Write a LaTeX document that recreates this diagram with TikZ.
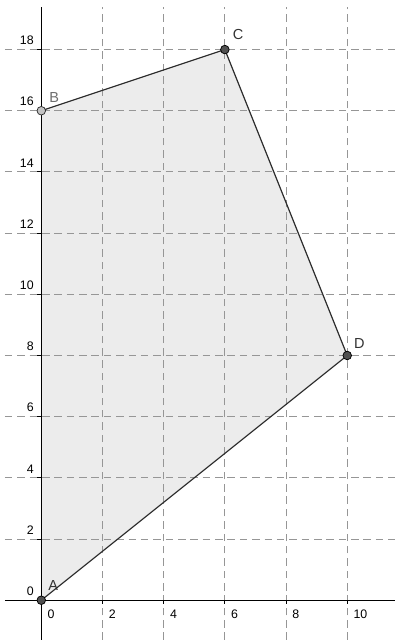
\documentclass[tikz,border=0pt]{standalone}
\usepackage{fontspec}
\setmainfont{Liberation Sans}
\usepackage{xcolor}
\usetikzlibrary{positioning}
\definecolor{gridgray}{RGB}{150,150,150}
\definecolor{polyfill}{RGB}{236,236,236}
\definecolor{edgedark}{RGB}{45,45,45}
\definecolor{pointdark}{RGB}{80,80,80}
\definecolor{pointlight}{RGB}{195,195,195}
\definecolor{labeldark}{RGB}{50,50,50}
\definecolor{labellight}{RGB}{110,110,110}

\tikzset{
  gridline/.style={gridgray, line width=0.8pt, dash pattern=on 7pt off 4.5pt},
  axisline/.style={black, line width=0.9pt},
  edgeline/.style={edgedark, line width=1.1pt},
  fixedpt/.style={circle, draw=black, fill=pointdark, line width=0.7pt, inner sep=0pt, minimum size=0.28cm},
  freept/.style={circle, draw=edgedark, fill=pointlight, line width=0.7pt, inner sep=0pt, minimum size=0.28cm},
  ptlabel/.style={inner sep=0pt, text=labeldark, font=\fontsize{13.5}{15}\selectfont},
  ticklabel/.style={inner sep=0pt, font=\fontsize{11.5}{13}\selectfont}
}

\begin{document}
\begin{tikzpicture}
  \useasboundingbox (-1.35,-1.30) rectangle (11.56,19.62);
  % polygon area
  \coordinate (pA) at (0,0);
  \coordinate (pB) at (0,16);
  \coordinate (pC) at (6,18);
  \coordinate (pD) at (10,8);
  \fill[polyfill] (pA) -- (pB) -- (pC) -- (pD) -- cycle;
  % grid
  \foreach \x in {2,4,...,10} {
    \draw[gridline] (\x,-1.30) -- (\x,19.39);
  }
  \foreach \y in {2,4,...,18} {
    \draw[gridline] (-1.19,\y) -- (11.56,\y);
  }
  % axes
  \draw[axisline] (-1.19,0) -- (11.56,0);
  \draw[axisline] (0,-1.30) -- (0,19.39);
  \foreach \x in {0,2,...,10} {
    \draw[axisline] (\x,0) -- (\x,-0.13);
    \node[ticklabel, anchor=north west] (xl\x) at (\x+0.2,-0.3) {\x};
  }
  \foreach \y in {0,2,...,18} {
    \draw[axisline] (0,\y) -- (-0.13,\y);
    \node[ticklabel, anchor=south east] (yl\y) at (-0.24,\y+0.15) {\y};
  }
  % edges
  \draw[edgeline] (pB) -- (pC) -- (pD) -- (pA);
  % points
  \node[fixedpt] (A) at (pA) {};
  \node[freept] (B) at (pB) {};
  \node[fixedpt] (C) at (pC) {};
  \node[fixedpt] (D) at (pD) {};
  \node[ptlabel, above right=0.2cm and 0.12cm of A] (labA) {A};
  \node[ptlabel, text=labellight, above right=0.14cm and 0.15cm of B] (labB) {B};
  \node[ptlabel, above right=0.22cm and 0.15cm of C] (labC) {C};
  \node[ptlabel, above right=0.12cm and 0.11cm of D] (labD) {D};
\end{tikzpicture}
\end{document}
